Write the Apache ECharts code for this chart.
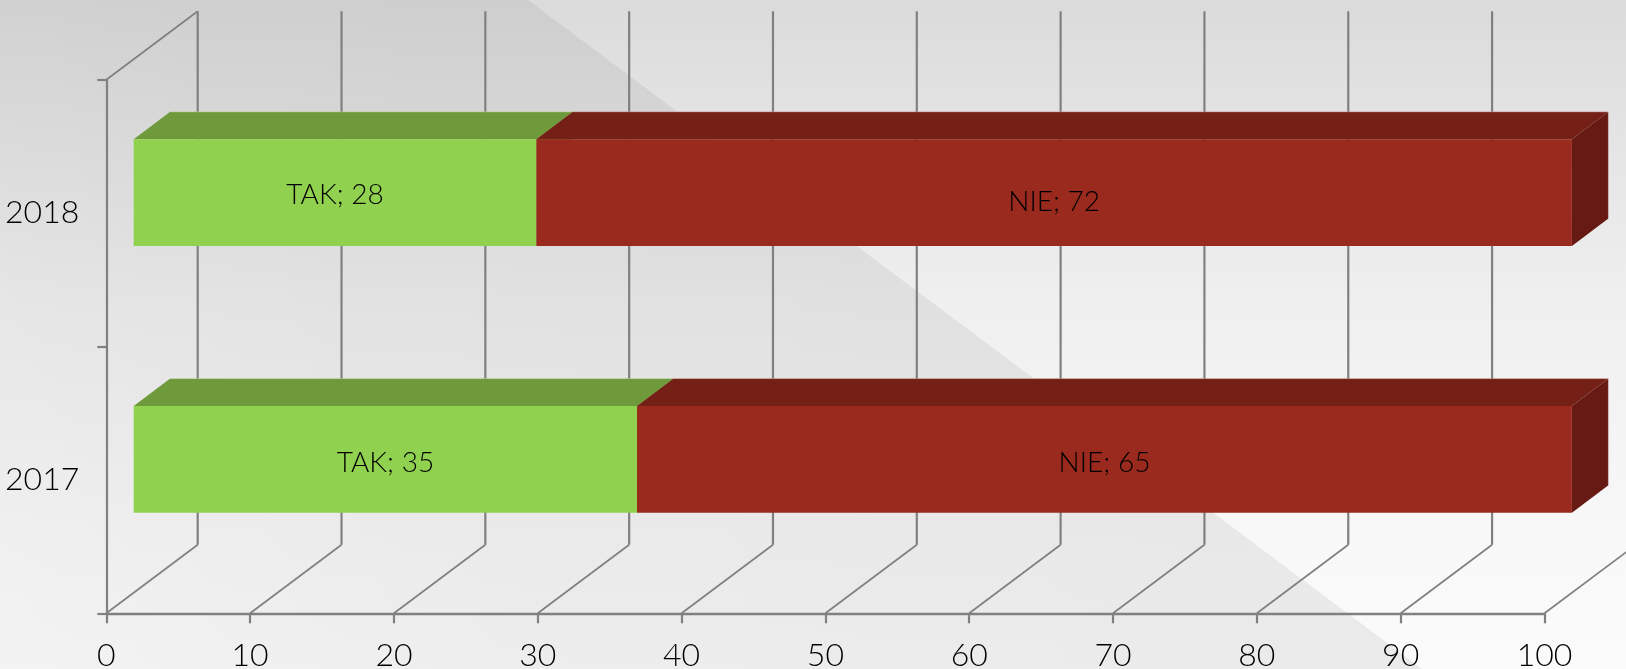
<!DOCTYPE html>
<html><head><meta charset="utf-8">
<style>html,body{margin:0;padding:0;background:#eee}#c{width:1626px;height:669px}</style>
<script src="https://cdn.jsdelivr.net/npm/echarts@6/dist/echarts.min.js"></script>
</head><body><div id="c"></div>
<script>
const categories = ['2017', '2018'];
const takValues = [35, 28];
const nieValues = [65, 72];
const xTicks = [0, 10, 20, 30, 40, 50, 60, 70, 80, 90, 100];
const seriesNames = ['TAK', 'NIE'];
const FONT = 'Lato, sans-serif';

const WALL_DX = 91.4, WALL_DY = 68.5;   // depth of the 3D floor
const BAR_OFF_X = 27.4, BAR_OFF_Y = 20.6; // bar front offset toward the back
const BAR_DX = 36.5, BAR_DY = 27.4;     // bar depth
const BAR_RATIO = 0.4;
const GRID_COLOR = '#808080';
const INK = '#000000';
const EDGE = 'rgba(255,255,255,0.3)';

const chart = echarts.init(document.getElementById('c'), null, {renderer: 'canvas'});

function wallItem(params, api) {
  const cs = params.coordSys;
  const x = api.coord([api.value(0), 0])[0];
  const yB = cs.y + cs.height, yT = cs.y;
  const children = [{
    type: 'polyline',
    shape: {points: [[x, yB], [x + WALL_DX, yB - WALL_DY]]},
    style: {stroke: GRID_COLOR, lineWidth: 1.7, fill: null}
  }, {
    type: 'polyline',
    shape: {points: [[x + WALL_DX, yB - WALL_DY], [x + WALL_DX, yT - WALL_DY]]},
    style: {stroke: GRID_COLOR, lineWidth: 2.2, fill: null}
  }];
  if (api.value(0) === 0) {
    children.push({
      type: 'polyline',
      shape: {points: [[x, yT], [x + WALL_DX, yT - WALL_DY]]},
      style: {stroke: GRID_COLOR, lineWidth: 1.7, fill: null}
    });
  }
  return {type: 'group', children};
}

function barItem(colors, nudge, capped) {
  return function (params, api) {
    const cat = api.value(0), start = api.value(1), val = api.value(2);
    const a = api.coord([start, cat]), b = api.coord([start + val, cat]);
    const h = api.size([0, 1])[1] * BAR_RATIO;
    const x0 = a[0] + BAR_OFF_X, x1 = b[0] + BAR_OFF_X;
    const y0 = a[1] - BAR_OFF_Y - h / 2, y1 = y0 + h;
    const dy = nudge[cat] || 0;
    const outline = capped
      ? [[x0 + BAR_DX, y0 - BAR_DY], [x1 + BAR_DX, y0 - BAR_DY], [x1 + BAR_DX, y1 - BAR_DY]]
      : [[x0 + BAR_DX, y0 - BAR_DY], [x1 + BAR_DX, y0 - BAR_DY]];
    return {type: 'group', children: [
      {type: 'polygon', shape: {points: [[x0, y0], [x1, y0], [x1 + BAR_DX, y0 - BAR_DY], [x0 + BAR_DX, y0 - BAR_DY]]},
        style: {fill: colors.top}},
      {type: 'polygon', shape: {points: [[x1, y0], [x1 + BAR_DX, y0 - BAR_DY], [x1 + BAR_DX, y1 - BAR_DY], [x1, y1]]},
        style: {fill: colors.side}},
      {type: 'polyline', shape: {points: outline}, style: {stroke: EDGE, lineWidth: 1, fill: null}},
      {type: 'rect', shape: {x: x0, y: y0, width: x1 - x0, height: h}, style: {fill: colors.front}},
      {type: 'text', style: {
        x: (x0 + x1) / 2, y: (y0 + y1) / 2 + dy,
        text: params.seriesName + '; ' + val,
        align: 'center', verticalAlign: 'middle',
        font: '300 28px ' + FONT, fill: INK
      }}
    ]};
  };
}

chart.setOption({
  animation: false,
  backgroundColor: 'transparent',
  graphic: [
    {type: 'rect', z: -10, silent: true, shape: {x: 0, y: 0, width: 1626, height: 669},
      style: {fill: new echarts.graphic.LinearGradient(0, 0, 0, 1, [
        {offset: 0, color: '#dbdbdb'}, {offset: 0.45, color: '#efefef'},
        {offset: 0.8, color: '#f8f8f8'}, {offset: 1, color: '#fbfbfb'}])}},
    {type: 'polygon', z: -9, silent: true, shape: {points: [[0, 0], [528, 0], [1422, 669], [0, 669]]},
      style: {fill: new echarts.graphic.LinearGradient(0, 1, 1, 0, [
        {offset: 0, color: 'rgba(0,0,0,0.03)'}, {offset: 0.3, color: 'rgba(0,0,0,0.055)'},
        {offset: 1, color: 'rgba(0,0,0,0.07)'}])}}
  ],
  grid: {left: 106.3, right: 81.5, top: 79.8, bottom: 55.7, containLabel: false, outerBoundsMode: 'none'},
  xAxis: {
    type: 'value', min: 0, max: 100, interval: 10,
    axisLine: {show: true, lineStyle: {color: GRID_COLOR, width: 2.4}},
    axisTick: {show: true, length: 10, lineStyle: {color: GRID_COLOR, width: 2.2}},
    splitLine: {show: false},
    axisLabel: {fontFamily: FONT, fontWeight: 300, fontSize: 32, color: INK, margin: 26, formatter: '{value}'}
  },
  yAxis: {
    type: 'category', data: categories,
    axisLine: {show: true, lineStyle: {color: GRID_COLOR, width: 2.2}},
    axisTick: {show: true, length: 9, lineStyle: {color: GRID_COLOR, width: 2.2}},
    axisLabel: {fontFamily: FONT, fontWeight: 300, fontSize: 32, color: INK, margin: 27, padding: [10, 0, 0, 0]}
  },
  series: [
    {type: 'custom', name: 'walls', z: 1, clip: false, silent: true,
      coordinateSystem: 'cartesian2d', encode: {x: 0, y: 1},
      renderItem: wallItem, data: xTicks.map(t => [t, 0])},
    {type: 'custom', name: seriesNames[0], z: 3, clip: false, silent: true,
      coordinateSystem: 'cartesian2d', encode: {x: 2, y: 0},
      renderItem: barItem({front: '#90d24f', top: '#6f9a3c', side: '#6f9a3c'}, {0: 4, 1: 2.5}, false),
      data: categories.map((c, i) => [i, 0, takValues[i]])},
    {type: 'custom', name: seriesNames[1], z: 4, clip: false, silent: true,
      coordinateSystem: 'cartesian2d', encode: {x: 2, y: 0},
      renderItem: barItem({front: '#992a1d', top: '#752016', side: '#661a13'}, {0: 4, 1: 9.5}, true),
      data: categories.map((c, i) => [i, takValues[i], nieValues[i]])}
  ]
});
</script></body></html>
